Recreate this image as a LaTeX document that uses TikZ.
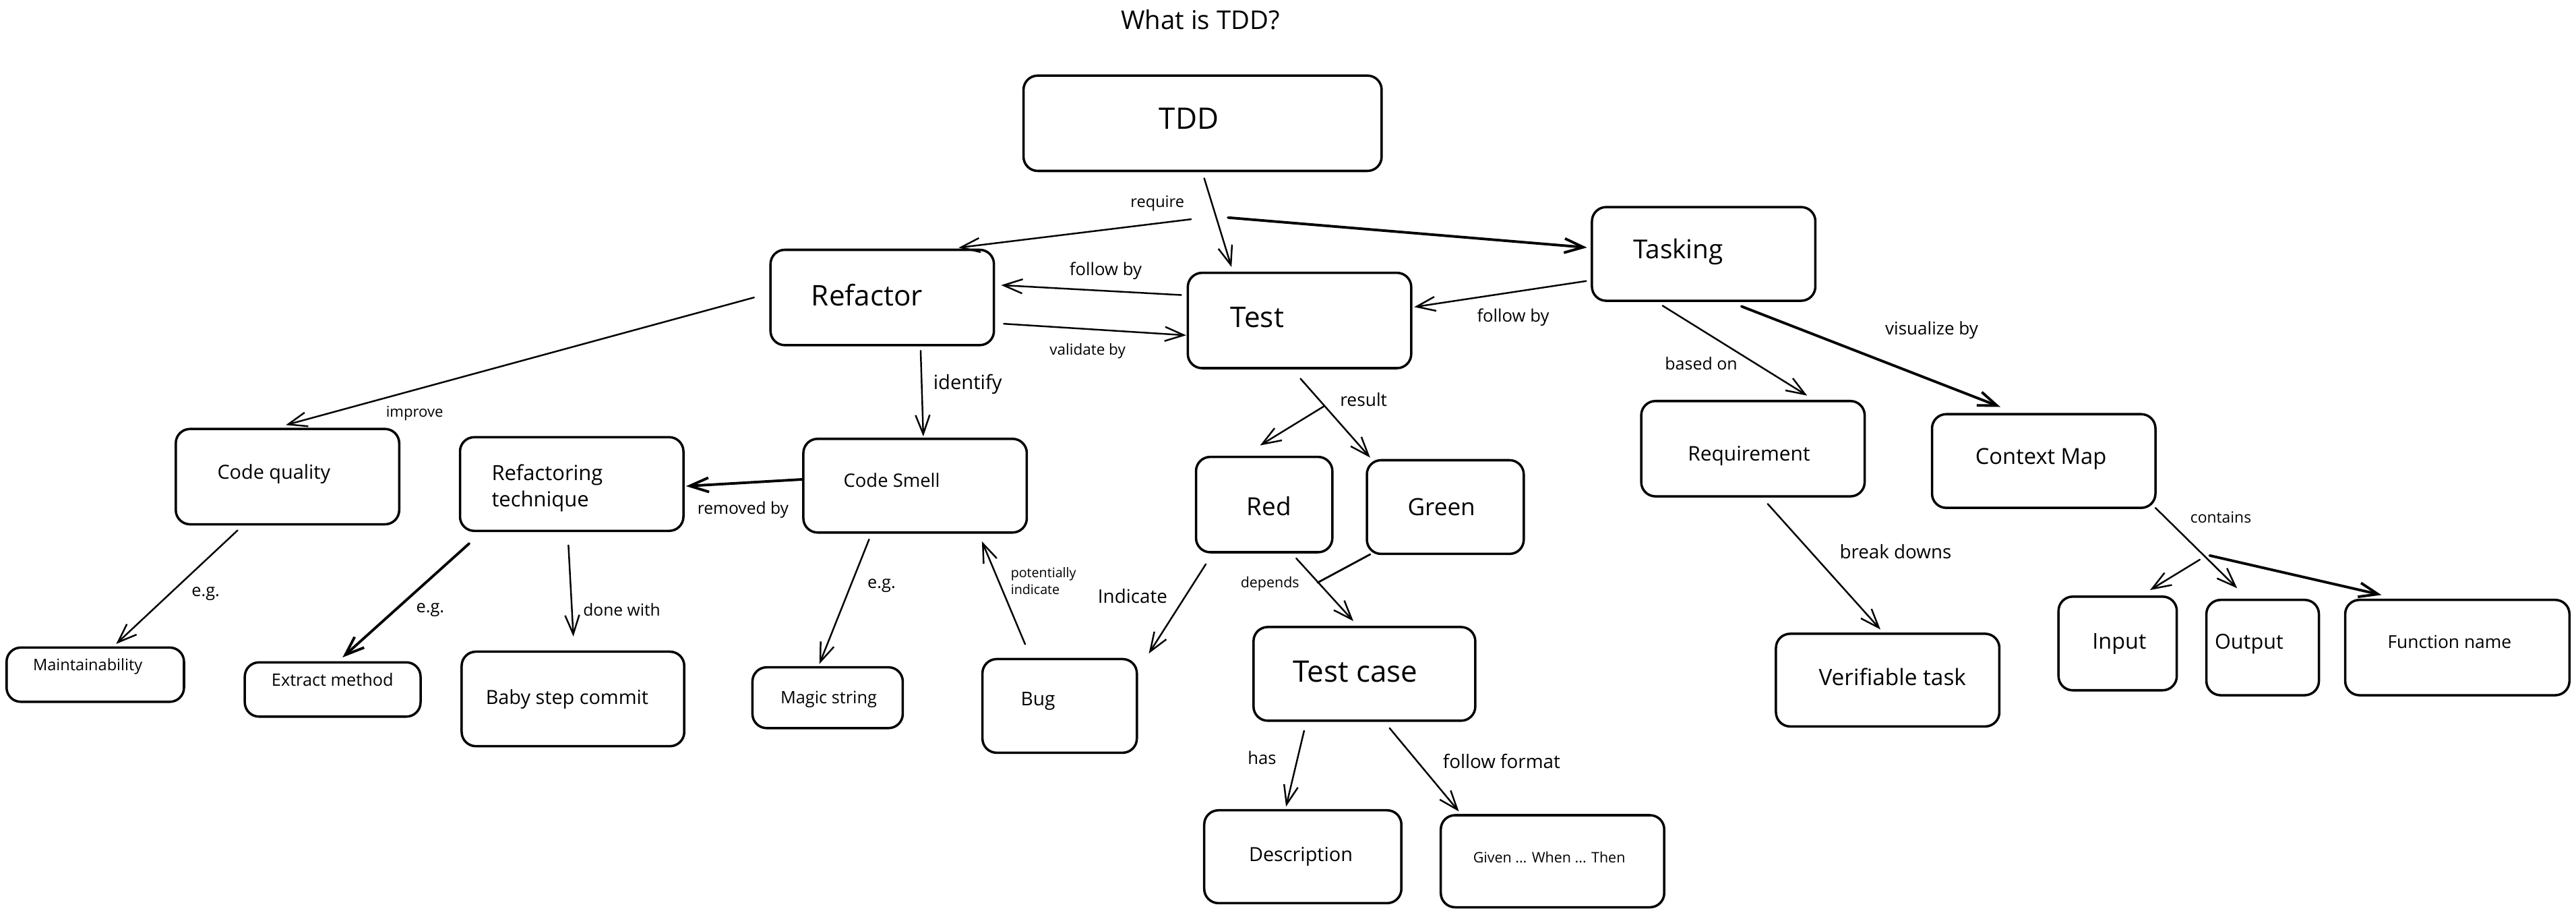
\documentclass[tikz,border=0pt]{standalone}
\usepackage{fontspec}
\setmainfont{Open Sans}
\usetikzlibrary{arrows.meta,calc,fit}
\newcommand\fsz[1]{\fontsize{#1}{#1}\selectfont}
\newcommand\mybox[5]{\node[bx, fit={(#2,#3) (#4,#5)}] (#1) {};}
\tikzset{
 bx/.style={draw, line width=1pt, rounded corners=6pt, inner sep=0pt, outer sep=0pt},
 ar/.style={line width=0.7pt, -{Straight Barb[length=8pt,width=6pt]}},
 arb/.style={ar, line width=1.1pt},
 ln/.style={line width=0.8pt},
 lbl/.style={inner sep=0pt, anchor=base},
}
\begin{document}
\begin{tikzpicture}[x=0.024375cm, y=-0.024375cm, line cap=round, line join=round]
\fill[white] (0,0) rectangle (1568,556.7);
\useasboundingbox (0,0) rectangle (1568,556.7);

% title
\node[lbl, font=\fsz{10.9}] (title) at (730.7,17.8) {What is TDD?};

% boxes
\mybox{tdd}{623}{46}{841}{104}
\mybox{ref}{469}{152}{605}{210}
\mybox{test}{723}{166}{859}{224}
\mybox{task}{969}{126}{1105}{183}
\mybox{cq}{107}{261}{243}{319}
\mybox{rt}{280}{266}{416}{323}
\mybox{cs}{489}{267}{625}{324}
\mybox{red}{728}{278}{811}{336}
\mybox{green}{832}{280}{927.5}{337}
\mybox{req}{999}{244}{1135}{302}
\mybox{cm}{1176}{252}{1312}{309}
\mybox{mnt}{4}{394}{112}{427}
\mybox{em}{149}{403}{256}{436}
\mybox{bsc}{281}{396.5}{416.5}{454}
\mybox{ms}{458}{406}{549.5}{443}
\mybox{bug}{598}{401}{692}{458}
\mybox{tc}{763}{381.5}{898}{438.5}
\mybox{vt}{1081}{385.6}{1217}{442}
\mybox{inp}{1253}{363}{1325}{420}
\mybox{out}{1343}{365}{1411.5}{423}
\mybox{fn}{1427.5}{365}{1564}{423}
\mybox{desc}{733}{493}{853}{549.5}
\mybox{gwt}{877}{496}{1013}{552}

% box texts
\node[lbl, font=\fsz{12.5}] (t-tdd) at (723.7,78.4) {TDD};
\node[lbl, font=\fsz{12}] (t-ref) at (527.8,186) {Refactor};
\node[lbl, font=\fsz{12}] (t-test) at (765.3,199.3) {Test};
\node[lbl, font=\fsz{11}] (t-task) at (1021.5,157.5) {Tasking};
\node[lbl, font=\fsz{8.2}] (t-cq) at (166.7,291.5) {Code quality};
\node[lbl, font=\fsz{8.8}, anchor=base west] (t-rt1) at (299,292.5) {Refactoring};
\node[lbl, font=\fsz{8.8}, anchor=base west] (t-rt2) at (299,308.3) {technique};
\node[lbl, font=\fsz{7.8}] (t-cs) at (542.8,296.6) {Code Smell};
\node[lbl, font=\fsz{10.5}] (t-red) at (772.5,313.5) {Red};
\node[lbl, font=\fsz{10}] (t-green) at (877.4,313.5) {Green};
\node[lbl, font=\fsz{8.5}] (t-req) at (1064.6,280.5) {Requirement};
\node[lbl, font=\fsz{9.3}] (t-cm) at (1242.3,282.6) {Context Map};
\node[lbl, font=\fsz{6.7}] (t-mnt) at (53.4,408) {Maintainability};
\node[lbl, font=\fsz{7.2}] (t-em) at (202.4,417.4) {Extract method};
\node[lbl, font=\fsz{8.2}] (t-bsc) at (345.2,428.6) {Baby step commit};
\node[lbl, font=\fsz{7.2}] (t-ms) at (504.4,428) {Magic string};
\node[lbl, font=\fsz{8}] (t-bug) at (631.8,429.4) {Bug};
\node[lbl, font=\fsz{12.5}] (t-tc) at (825,414.8) {Test case};
\node[lbl, font=\fsz{8.2}] (t-desc) at (791.8,524.3) {Description};
\node[lbl, font=\fsz{6.1}] (t-gwt) at (943,525) {Given ... When ... Then};
\node[lbl, font=\fsz{9.5}] (t-vt) at (1151.9,417.2) {Verifiable task};
\node[lbl, font=\fsz{9.2}] (t-inp) at (1290,395) {Input};
\node[lbl, font=\fsz{8.7}] (t-out) at (1369,395) {Output};
\node[lbl, font=\fsz{7.5}] (t-fn) at (1491,394.5) {Function name};

% connectors
\draw[ar]  ($(tdd)+(1,33.5)$) -- ($(test)+(-41.4,-32.5)$);
\draw[ar]  ($(tdd)+(-7,58.4)$) -- ($(ref)+(46.5,-30.3)$);
\draw[arb] ($(tdd)+(15.5,57.4)$) -- ($(task)+(-71,-3.9)$);
\draw[ar]  ($(test)+(-72,-15.5)$) -- ($(ref)+(72.4,-7.5)$);
\draw[ar]  ($(ref)+(74,16)$) -- ($(test)+(-69,9)$);
\draw[ar]  ($(task)+(-71.5,16.5)$) -- ($(test)+(69.8,-8.2)$);
\draw[ar]  ($(ref)+(23.4,32.4)$) -- ($(cs)+(5,-30)$);
\draw[ar]  ($(test)+(0.6,35.4)$) -- ($(green)+(-45.75,-30.1)$);
\draw[ar]  ($(test)+(14.7,52.3)$) -- ($(red)+(-2.5,-36)$);
\draw[ar]  ($(ref)+(-78,0)$) -- ($(cq)+(-1,-31.4)$);
\draw[arb] ($(cs)+(-69,-3.8)$) -- ($(rt)+(69.6,1.3)$);
\draw[ar]  ($(cq)+(-30.4,32.7)$) -- ($(mnt)+(12.7,-18.7)$);
\draw[arb] ($(rt)+(-62.4,36.2)$) -- ($(em)+(6,-19.5)$);
\draw[ar]  ($(rt)+(-2,37.3)$) -- ($(bsc)+(0.25,-38)$);
\draw[ar]  ($(cs)+(-28,32.7)$) -- ($(ms)+(-5,-20.5)$);
\draw[ar]  ($(bug)+(-21,-37.5)$) -- ($(cs)+(40.7,33.9)$);
\draw[ar]  ($(red)+(-35.5,36.2)$) -- ($(bug)+(54.3,-31.9)$);
\draw[ar]  ($(red)+(19.5,32.7)$) -- ($(tc)+(-6.7,-32.1)$);
\draw[ln]  ($(green)+(-45.75,28.8)$) -- ($(red)+(32.5,47.5)$);
\draw[ar]  ($(tc)+(-36.7,34.6)$) -- ($(desc)+(-10.2,-30.5)$);
\draw[ar]  ($(tc)+(15.3,33)$) -- ($(gwt)+(-57,-30.3)$);
\draw[ar]  ($(task)+(-25,31.5)$) -- ($(req)+(33,-32.3)$);
\draw[arb] ($(task)+(23,31.9)$) -- ($(cm)+(-26.4,-32.9)$);
\draw[ar]  ($(req)+(9,33.6)$) -- ($(vt)+(-4.4,-30.8)$);
\draw[ar]  ($(cm)+(68,28.5)$) -- ($(out)+(-15.5,-36.1)$);
\draw[ar]  ($(cm)+(95,60)$) -- ($(inp)+(19.7,-32.5)$);
\draw[arb] ($(cm)+(101,57.5)$) -- ($(fn)+(-46.15,-32)$);

% connector labels
\node[lbl, font=\fsz{6.7}] (l-req) at (704.5,126) {require};
\node[lbl, font=\fsz{7.3}] (l-fb1) at (673,167.6) {follow by};
\node[lbl, font=\fsz{6.4}] (l-vb) at (662,216) {validate by};
\node[lbl, font=\fsz{7.3}] (l-fb2) at (921,196) {follow by};
\node[lbl, font=\fsz{8.3}] (l-id) at (589,237) {identify};
\node[lbl, font=\fsz{7.5}] (l-res) at (830,247.3) {result};
\node[lbl, font=\fsz{6.3}] (l-imp) at (252.4,253.6) {improve};
\node[lbl, font=\fsz{7.1}] (l-bo) at (1035.5,225) {based on};
\node[lbl, font=\fsz{7.4}] (l-vis) at (1175.8,203.7) {visualize by};
\node[lbl, font=\fsz{7.9}] (l-bd) at (1153.8,339.7) {break downs};
\node[lbl, font=\fsz{6.5}] (l-con) at (1351.8,318.2) {contains};
\node[lbl, font=\fsz{7}] (l-rem) at (452.3,313) {removed by};
\node[lbl, font=\fsz{7.2}] (l-eg1) at (125.2,362.7) {e.g.};
\node[lbl, font=\fsz{7.2}] (l-eg2) at (261.9,372.8) {e.g.};
\node[lbl, font=\fsz{7}] (l-dw) at (378.5,374.6) {done with};
\node[lbl, font=\fsz{7.2}] (l-eg3) at (536.6,358) {e.g.};
\node[lbl, font=\fsz{5.6}, anchor=base west] (l-pot1) at (615,351.2) {potentially};
\node[lbl, font=\fsz{5.6}, anchor=base west] (l-pot2) at (615,361.6) {indicate};
\node[lbl, font=\fsz{7.9}] (l-ind) at (689.4,367) {Indicate};
\node[lbl, font=\fsz{6.1}] (l-dep) at (773,357.5) {depends};
\node[lbl, font=\fsz{7.3}] (l-has) at (768.2,465) {has};
\node[lbl, font=\fsz{7.9}] (l-ff) at (914,467.3) {follow format};
\end{tikzpicture}
\end{document}
